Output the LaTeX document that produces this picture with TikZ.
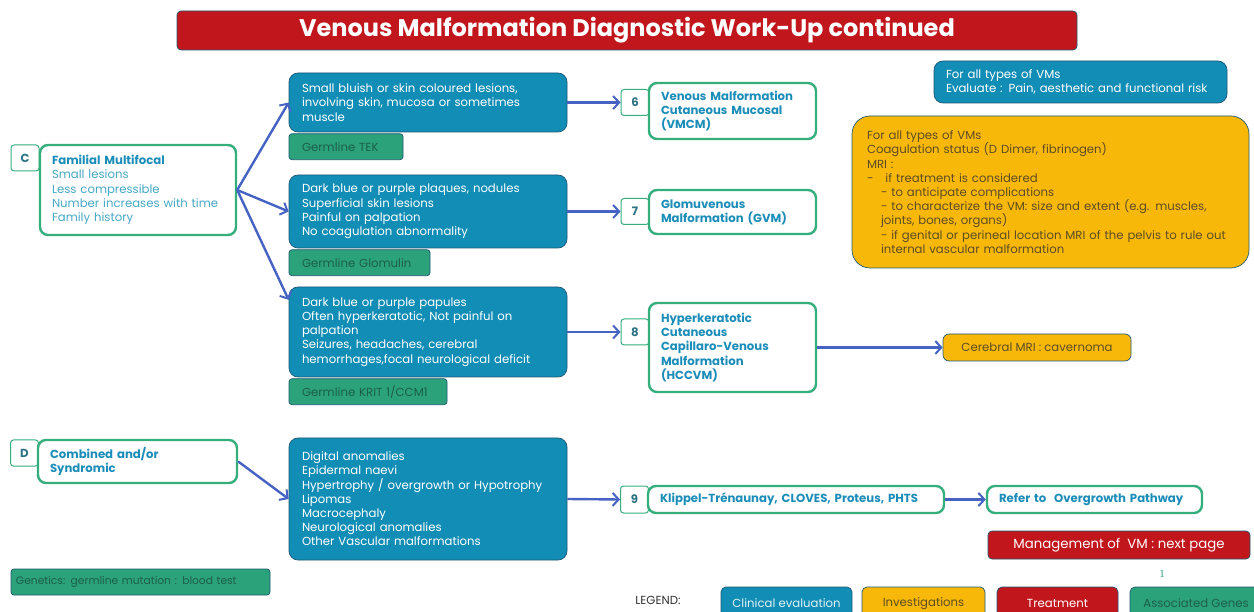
\documentclass[tikz,border=0pt]{standalone}
\usepackage{fontspec}
\setmainfont{Poppins}
\newfontfamily\pagefont{Liberation Serif}
\usetikzlibrary{positioning, arrows.meta}

\definecolor{vmblue}{HTML}{118DB6}
\definecolor{vmblueline}{HTML}{1F5874}
\definecolor{vmgreen}{HTML}{2BA27A}
\definecolor{vmgreenline}{HTML}{35AE7E}
\definecolor{vmgenetext}{HTML}{1C5F4A}
\definecolor{vmorange}{HTML}{F8B80A}
\definecolor{vmorangetext}{HTML}{5E4C22}
\definecolor{vmred}{HTML}{C1161C}
\definecolor{vmhead}{HTML}{1B8DB8}
\definecolor{vmlight}{HTML}{46A8C4}
\definecolor{vmnum}{HTML}{2C7283}
\definecolor{vmarrow}{HTML}{4663C4}

\begin{document}
\begin{tikzpicture}[x=1pt, y=-1pt,
  every node/.style={font=\fontsize{11.7}{14.2}\selectfont, inner ysep=0pt},
  clinical/.style={draw=vmblueline, fill=vmblue, rounded corners=9pt, line width=0.7pt,
    text=white, align=left, inner xsep=13pt},
  gene/.style={draw=vmblueline, fill=vmgreen, rounded corners=3pt, line width=0.7pt,
    text=vmgenetext, align=left, inner xsep=13pt, minimum height=26pt},
  invest/.style={draw=vmblueline, fill=vmorange, rounded corners=6pt, line width=0.7pt,
    text=vmorangetext, align=left},
  vmtype/.style={draw=vmgreenline, fill=white, rounded corners=8pt, line width=2.4pt,
    text=vmhead, align=left, inner xsep=12pt,
    font=\fontsize{11.7}{14.2}\selectfont\bfseries},
  numbox/.style={draw=vmgreenline, fill=white, rounded corners=3pt, line width=1pt,
    minimum width=28pt, minimum height=26pt, inner sep=0pt, text=vmnum,
    font=\fontsize{11.7}{14.2}\selectfont\bfseries},
  legendbox/.style={draw=vmblueline, rounded corners=5pt, line width=0.7pt,
    minimum width=#1, minimum height=33pt},
  arrow/.style={-{Straight Barb[length=6pt, width=13pt, line width=2pt]},
    line width=2.4pt, draw=vmarrow}
]
\useasboundingbox (0,0) rectangle (1254,612);

% Title
\node[draw=vmblueline, fill=vmred, rounded corners=4pt, line width=0.7pt,
  minimum width=900pt, minimum height=39pt, text=white,
  font=\fontsize{24}{28}\selectfont\bfseries] (title) at (627,30.5)
  {Venous Malformation Diagnostic Work-Up continued};

% Section C: familial multifocal
\node[numbox] (cnum) at (25,158) {C};
\node[vmtype, text=vmlight, font=\fontsize{11.7}{14.2}\selectfont,
  text width=172pt, minimum height=90pt] (familial) at (138,190)
  {{\bfseries\color{vmhead}Familial Multifocal}\\ Small lesions\\ Less compressible\\
   Number increases with time\\ Family history};

% Clinical pictures
\node[clinical, text width=252pt, minimum height=59pt] (sympt1) at (428,102.5)
  {Small bluish or skin coloured lesions,\\ involving skin, mucosa or sometimes\\ muscle};
\node[gene, text width=88pt, below=1pt of sympt1.south west, anchor=north west] (tek)
  {Germline TEK};

\node[clinical, text width=252pt, minimum height=73pt] (sympt2) at (428,211.5)
  {Dark blue or purple plaques, nodules\\ Superficial skin lesions\\ Painful on palpation\\
   No coagulation abnormality};
\node[gene, text width=115pt, below=1pt of sympt2.south west, anchor=north west] (glomulin)
  {Germline Glomulin};

\node[clinical, text width=252pt, minimum height=90pt] (sympt3) at (428,332)
  {Dark blue or purple papules\\ Often hyperkeratotic, Not painful on\\ palpation\\
   Seizures, headaches, cerebral\\ hemorrhages,focal neurological deficit};
\node[gene, text width=132pt, below=1pt of sympt3.south west, anchor=north west] (krit)
  {Germline KRIT 1/CCM1};

% Diagnoses 6-8
\node[numbox] (num6) at (635,102.5) {6};
\node[vmtype, text width=143pt, minimum height=56pt] (vmcm) at (732.5,111)
  {Venous Malformation\\ Cutaneous Mucosal\\ (VMCM)};
\node[numbox] (num7) at (635,211.5) {7};
\node[vmtype, text width=143pt, minimum height=44pt] (gvm) at (732.5,212)
  {Glomuvenous\\ Malformation (GVM)};
\node[numbox] (num8) at (635,332) {8};
\node[vmtype, text width=143pt, minimum height=89pt] (hccvm) at (732.5,347.5)
  {Hyperkeratotic\\ Cutaneous\\ Capillaro-Venous\\ Malformation\\ (HCCVM)};
\node[invest, minimum width=188pt, minimum height=27pt] (mri) at (1037,347.5)
  {Cerebral MRI : cavernoma};

% For all types of VMs
\node[clinical, inner xsep=12pt, text width=269pt, minimum height=42pt] (evaluate)
  at (1080.5,82)
  {For all types of VMs\\ Evaluate : Pain, aesthetic and functional risk};
\node[invest, rounded corners=18pt, inner xsep=15pt, text width=367pt,
  minimum height=152pt] (coag) at (1050.5,192)
  {For all types of VMs\\ Coagulation status (D Dimer, fibrinogen)\\ MRI :\\
   -\hspace*{12pt}if treatment is considered\\
   \hspace*{14pt}- to anticipate complications\\
   \hspace*{14pt}- to characterize the VM: size and extent (e.g. muscles,\\
   \hspace*{14pt}joints, bones, organs)\\
   \hspace*{14pt}- if genital or perineal location MRI of the pelvis to rule out\\
   \hspace*{14pt}internal vascular malformation};

% Section D: combined and/or syndromic
\node[numbox] (dnum) at (24.5,453) {D};
\node[vmtype, text width=175pt, minimum height=43pt] (combined) at (137.5,461.5)
  {Combined and/or\\ Syndromic};
\node[clinical, text width=252pt, minimum height=122pt] (sympt4) at (428,499)
  {Digital anomalies\\ Epidermal naevi\\ Hypertrophy / overgrowth or Hypotrophy\\ Lipomas\\
   Macrocephaly\\ Neurological anomalies\\ Other Vascular malformations};
\node[numbox, minimum height=27pt] (num9) at (634.5,499.5) {9};
\node[vmtype, text width=272pt, minimum height=27pt] (klippel) at (796,499.5)
  {Klippel-Trénaunay, CLOVES, Proteus, PHTS};
\node[vmtype, text width=191pt, minimum height=27pt] (refer) at (1094.5,499.5)
  {Refer to~ Overgrowth Pathway};

% Genetics and management
\node[gene, inner xsep=5pt, text width=249pt, font=\fontsize{10.7}{14}\selectfont]
  (genetics) at (140.5,582) {Genetics: germline mutation : blood test};
\node[draw=vmblueline, fill=vmred, rounded corners=4pt, line width=0.7pt,
  minimum width=262pt, minimum height=28pt, text=white,
  font=\fontsize{13.3}{16}\selectfont] (mgmt) at (1119,545)
  {Management of~ VM : next page};
\node[text=vmgreen, font=\pagefont\fontsize{11}{13}\selectfont] (page) at (1162,574) {1};

% Legend
\node[text=black!80] (legend) at (658,600) {LEGEND:};
\node[legendbox=131pt, fill=vmblue, text=white!88!vmblue] (leg1) at (786.5,603.5)
  {Clinical evaluation};
\node[legendbox=123pt, fill=vmorange, text=vmorangetext] (leg2) at (923.5,603.5)
  {Investigations};
\node[legendbox=121pt, fill=vmred, text=white] (leg3) at (1057.5,603.5)
  {Treatment};
\node[legendbox=132pt, fill=vmgreen, text=vmgenetext] (leg4) at (1196,603.5)
  {Associated Genes};

% Arrows
\draw[arrow] (familial.east) -- (sympt1.west);
\draw[arrow] (familial.east) -- (sympt2.west);
\draw[arrow] (familial.east) -- (sympt3.167);
\draw[arrow] (sympt1.east) -- (num6.west);
\draw[arrow] (sympt2.east) -- (num7.west);
\draw[arrow] (sympt3.east) -- (num8.west);
\draw[arrow] (hccvm.east) -- (mri.west);
\draw[arrow] (combined.east) -- (sympt4.west);
\draw[arrow] (sympt4.east) -- (num9.west);
\draw[arrow] (klippel.east) -- (refer.west);

\end{tikzpicture}
\end{document}
